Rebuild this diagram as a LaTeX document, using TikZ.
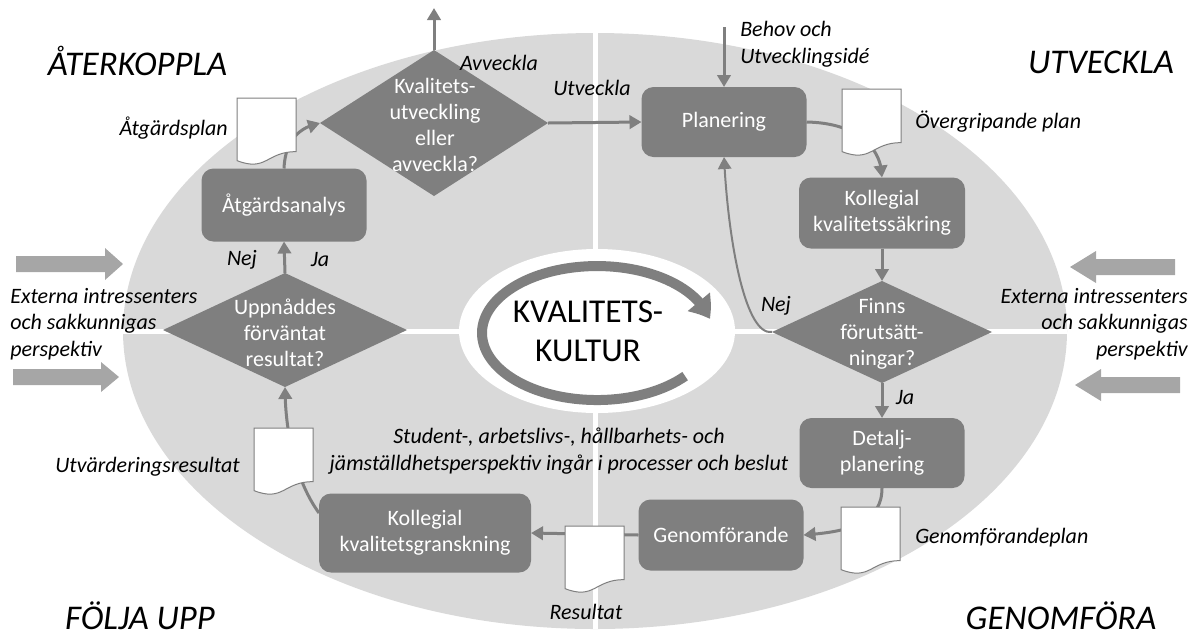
\documentclass[tikz,border=0pt]{standalone}
\usepackage{fontspec}
\setmainfont{Carlito}
\usetikzlibrary{arrows.meta,shapes.geometric,bending}
\definecolor{ellgray}{RGB}{217,217,217}
\definecolor{boxgray}{RGB}{127,127,127}
\definecolor{extgray}{RGB}{166,166,166}
\newcommand{\fntNode}{\fontsize{16.5}{19.5}\selectfont}
\newcommand{\fntLbl}{\itshape\fontsize{16.5}{20}\selectfont}
\newcommand{\fntTitle}{\itshape\fontsize{26}{30}\selectfont}
\newcommand{\fntBig}{\fontsize{25}{29}\selectfont}
\begin{document}
\begin{tikzpicture}[x=0.75pt,y=-0.75pt,
  proc/.style={rectangle, rounded corners=9pt, fill=boxgray, text=white, font=\fntNode, align=center, inner sep=0pt, outer sep=0pt},
  dec/.style={diamond, fill=boxgray, inner sep=0pt, outer sep=0pt},
  dtext/.style={text=white, font=\fntNode, align=center, inner sep=0pt},
  conn/.style={draw=boxgray, line width=2.25pt, -{Triangle[width=10pt,length=9pt]}},
  thinconn/.style={draw=boxgray, line width=1.5pt, -{Triangle[width=10pt,length=9pt]}},
  lbl/.style={font=\fntLbl, inner sep=0pt, text=black},
  ttl/.style={font=\fntTitle, inner sep=0pt, anchor=base, text=black},
  doc/.pic={\draw[draw=boxgray, line width=0.75pt, fill=white] (0,0) -- (59,0) -- (59,53.6) .. controls (29.5,53.6) and (29.5,74.2) .. (0,62.6) -- cycle;}
]
\useasboundingbox (0,0) rectangle (1199,637);

% background ellipse and dividers
\fill[ellgray] (595,331) ellipse [x radius=472, y radius=298];
\draw[white, line width=3.75pt] (595,33) -- (595,629);
\draw[white, line width=3.75pt] (123,331) -- (1067,331);
\fill[white] (597,331) ellipse [x radius=138, y radius=82];

% circular arrow
\draw[boxgray, line width=7.5pt, -{Triangle[width=21pt,length=15pt,bend]}] (685.1,376.1) arc[start angle=40, end angle=348, x radius=115, y radius=67];
\node[font=\fntBig, align=center, inner sep=0pt] (kult) at (588,331) {KVALITETS-\\KULTUR};

% external arrows
\fill[extgray] (16,256) -- (105,256) -- (105,248) -- (123,264) -- (105,280) -- (105,272) -- (16,272) -- cycle;
\fill[extgray] (13,369) -- (101,369) -- (101,362) -- (119,377) -- (101,392) -- (101,385) -- (13,385) -- cycle;
\fill[extgray] (1175,259) -- (1096,259) -- (1096,251) -- (1070,267) -- (1096,283) -- (1096,275) -- (1175,275) -- cycle;
\fill[extgray] (1180,377) -- (1101,377) -- (1101,369) -- (1075,385) -- (1101,401) -- (1101,393) -- (1180,393) -- cycle;

% process boxes
\node[proc, minimum width=123.75pt, minimum height=52.5pt] (plan) at (724,122) {Planering};
\node[proc, minimum width=124.5pt, minimum height=53.25pt] (kks) at (882,213) {Kollegial\\kvalitetssäkring};
\node[proc, minimum width=123.75pt, minimum height=54.75pt] (atg) at (284,205) {Åtgärdsanalys};
\node[proc, minimum width=123.75pt, minimum height=52.5pt] (detalj) at (882,453) {Detalj-\\planering};
\node[proc, minimum width=123.75pt, minimum height=53.25pt] (genom) at (721,535) {Genomförande};
\node[proc, minimum width=159pt, minimum height=59.25pt] (kkg) at (425,533) {Kollegial\\kvalitetsgranskning};

% decisions
\node[dec, minimum width=171pt, minimum height=109.5pt] (dq) at (434,123) {};
\node[dtext] at (435,125) {Kvalitets-\\utveckling\\eller\\avveckla?};
\node[dec, minimum width=165pt, minimum height=76.5pt] (dfinns) at (882,332) {};
\node[dtext] at (882,334) {Finns\\förutsätt-\\ningar?};
\node[dec, minimum width=183pt, minimum height=85.5pt] (dupp) at (285,330) {};
\node[dtext] at (285,333) {Uppnåddes\\förväntat\\resultat?};

% free ends
\coordinate (behov) at (724,27);
\coordinate (avv) at (434,8);

% connectors
\draw[conn] (behov) -- (plan.north);
\draw[conn] (dq.east) -- (plan.west);
\draw[conn] (dq.north) -- (avv);
\draw[conn] (plan.east) .. controls (860,123) and (882,150) .. (kks.north);
\draw[conn] (kks.south) -- (dfinns.north);
\draw[conn] (dfinns.south) -- (detalj.north);
\draw[thinconn] (dfinns.west) .. controls (745,336) and (728,240) .. (plan.south);
\draw[conn] (detalj.south) .. controls (882,525) and (845,532) .. (genom.east);
\draw[conn] (genom.west) -- (kkg.east);
\draw[conn] ([yshift=15pt]kkg.west) .. controls (295,480) and (285,430) .. (dupp.south);
\draw[conn] (dupp.north) -- (atg.south);
\draw[conn] (atg.north) .. controls (285,145) and (295,128) .. (dq.west);

% documents
\pic at (237,98) {doc};
\pic at (842,89) {doc};
\pic at (254,428) {doc};
\pic at (565,526) {doc};
\pic at (841,507) {doc};

% labels
\node[lbl, anchor=west, align=left] (lbehov) at (740,44) {Behov och\\Utvecklingsidé};
\node[lbl] (lutv) at (592,88) {Utveckla};
\node[lbl] (lavv) at (499,63) {Avveckla};
\node[lbl, anchor=east] (latgp) at (228,128) {Åtgärdsplan};
\node[lbl, anchor=west] (lover) at (915,122) {Övergripande plan};
\node[lbl] (lnej1) at (776,306) {Nej};
\node[lbl] (lja1) at (905,398) {Ja};
\node[lbl] (lnej2) at (242,260) {Nej};
\node[lbl] (lja2) at (320,260) {Ja};
\node[lbl, anchor=east] (lutvres) at (240,467) {Utvärderingsresultat};
\node[lbl] (lres) at (586,612) {Resultat};
\node[lbl, anchor=west] (lgplan) at (915,538) {Genomförandeplan};
\node[lbl, align=center] (lstud) at (559,451) {Student-, arbetslivs-, hållbarhets- och\\jämställdhetsperspektiv ingår i processer och beslut};
\node[lbl, anchor=west, align=left] (lextl) at (10,324) {Externa intressenters\\och sakkunnigas\\perspektiv};
\node[lbl, anchor=east, align=right] (lextr) at (1188,324) {Externa intressenters\\och sakkunnigas\\perspektiv};

% titles
\node[ttl] (t1) at (137.5,75) {ÅTERKOPPLA};
\node[ttl] (t2) at (1101,73) {UTVECKLA};
\node[ttl] (t3) at (140,629) {FÖLJA UPP};
\node[ttl] (t4) at (1061,629) {GENOMFÖRA};
\end{tikzpicture}
\end{document}
